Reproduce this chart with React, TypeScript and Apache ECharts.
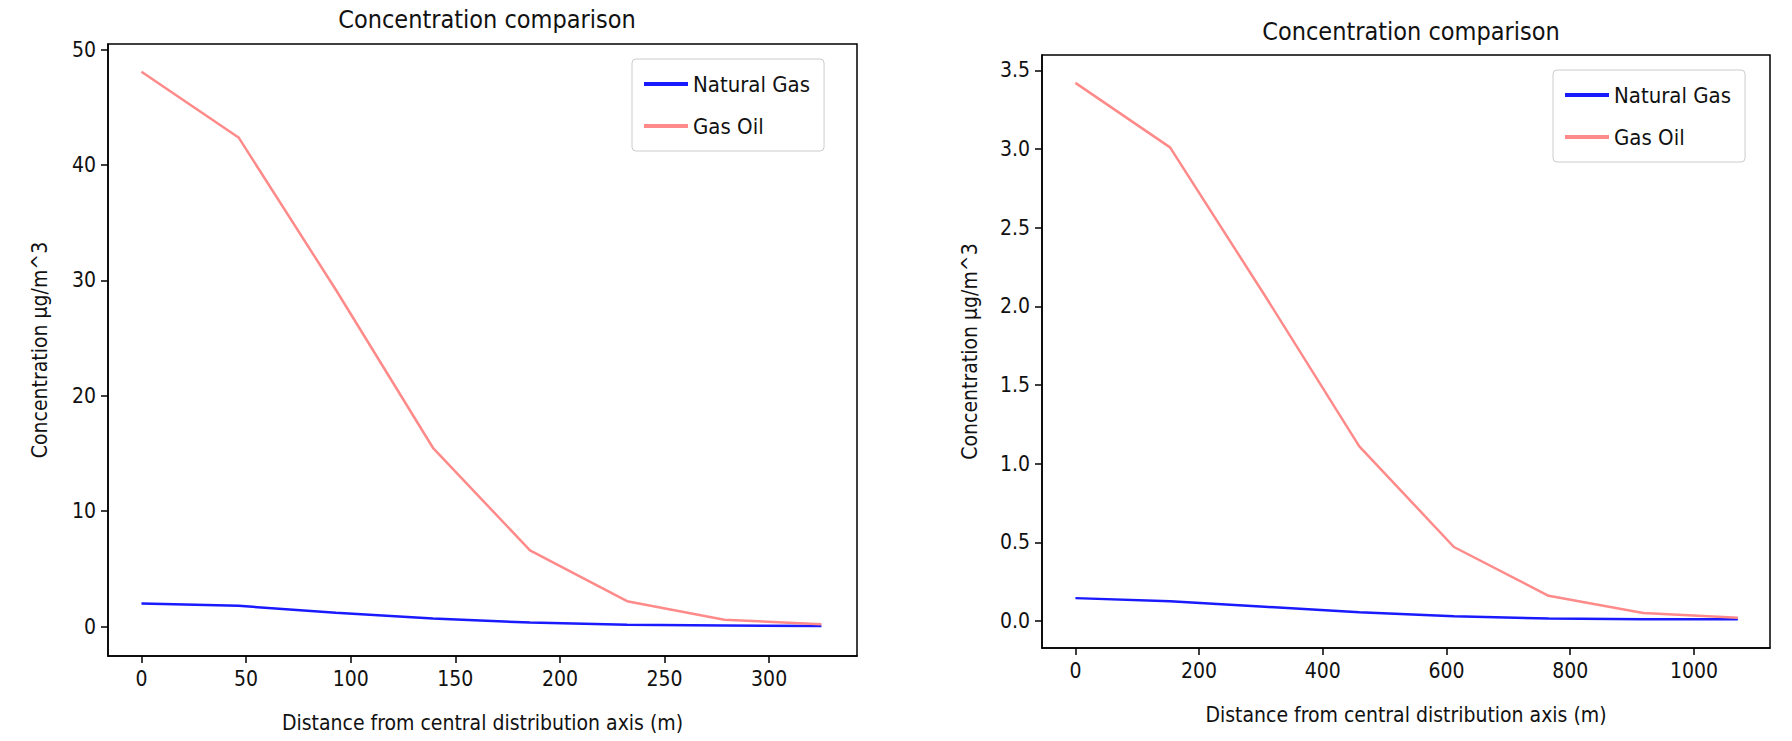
import { useEffect, useRef } from "react";
import * as echarts from "echarts";

const leftX = [0, 46.4, 92.9, 139.3, 185.7, 232.1, 278.6, 325];
const leftNatural = [2.0, 1.8, 1.2, 0.7, 0.35, 0.15, 0.1, 0.05];
const leftGasOil = [48.1, 42.4, 29.2, 15.5, 6.6, 2.2, 0.6, 0.2];
const leftXTicks = [0, 50, 100, 150, 200, 250, 300];
const leftYTicks = [0, 10, 20, 30, 40, 50];

const rightX = [0, 153, 306, 459, 612, 765, 918, 1071];
const rightNatural = [0.145, 0.125, 0.09, 0.055, 0.03, 0.015, 0.01, 0.01];
const rightGasOil = [3.42, 3.01, 2.07, 1.11, 0.47, 0.16, 0.05, 0.02];
const rightXTicks = [0, 200, 400, 600, 800, 1000];
const rightYTicks = [0, 0.5, 1, 1.5, 2, 2.5, 3, 3.5];

const FONT = "'DejaVu Sans Condensed', 'Liberation Sans Narrow', 'DejaVu Sans', sans-serif";
const BLUE = "#1a1aff";
const PINK = "#ff8a8a";

const pair = (xs: number[], ys: number[]) => xs.map((x, i) => [x, ys[i]]);

export default function App() {
  const chartRef = useRef<HTMLDivElement | null>(null);

  useEffect(() => {
    if (!chartRef.current) return;
    document.body.style.margin = "0";
    const chart = echarts.init(chartRef.current, undefined, { renderer: "svg" });

    const xAxis = (idx: number, min: number, max: number, ticks: number[]) => ({
      type: "value",
      gridIndex: idx,
      min,
      max,
      name: "Distance from central distribution axis (m)",
      nameLocation: "middle",
      nameGap: 56,
      nameTextStyle: { fontFamily: FONT, fontSize: 21, color: "#111" },
      axisLine: { onZero: false, lineStyle: { color: "#000", width: 1.5 } },
      axisTick: { length: 7, lineStyle: { color: "#000", width: 1.5 }, customValues: ticks },
      axisLabel: { customValues: ticks, formatter: (v: number) => String(v), margin: 12, fontFamily: FONT, fontSize: 21, color: "#111" },
      splitLine: { show: false },
    });

    const yAxis = (idx: number, min: number, max: number, ticks: number[], fmt: (v: number) => string, gap: number) => ({
      type: "value",
      gridIndex: idx,
      min,
      max,
      name: "Concentration µg/m^3",
      nameLocation: "middle",
      nameGap: gap,
      nameTextStyle: { fontFamily: FONT, fontSize: 21, color: "#111" },
      axisLine: { onZero: false, lineStyle: { color: "#000", width: 1.5 } },
      axisTick: { length: 7, lineStyle: { color: "#000", width: 1.5 }, customValues: ticks },
      axisLabel: { customValues: ticks, formatter: fmt, margin: 12, fontFamily: FONT, fontSize: 21, color: "#111" },
      splitLine: { show: false },
    });

    const legend = (left: number, top: number, names: string[]) => ({
      left,
      top,
      orient: "vertical",
      data: names,
      itemWidth: 44,
      itemHeight: 4,
      itemGap: 20,
      padding: [14, 14, 14, 12],
      borderColor: "#ccc",
      borderWidth: 1,
      borderRadius: 4,
      icon: "rect",
      textStyle: { fontFamily: FONT, fontSize: 22, color: "#111" },
    });

    const line = (name: string, data: number[][], color: string, idx: number) => ({
      name,
      type: "line",
      xAxisIndex: idx,
      yAxisIndex: idx,
      data,
      showSymbol: false,
      color,
      lineStyle: { color, width: 2.5 },
    });

    const titleStyle = { fontFamily: FONT, fontSize: 25, fontWeight: "normal", color: "#111" };

    chart.setOption({
      animation: false,
      title: [
        { text: "Concentration comparison", left: 482, top: 2, textAlign: "center", textStyle: titleStyle },
        { text: "Concentration comparison", left: 1406, top: 14, textAlign: "center", textStyle: titleStyle },
      ],
      legend: [legend(632, 59, ["Natural Gas", "Gas Oil"]), legend(1553, 70, ["Natural Gas", "Gas Oil"])],
      grid: [
        { left: 108, top: 44, width: 749, height: 612, show: true, borderColor: "#000", borderWidth: 1.5 },
        { left: 1042, top: 55, width: 728, height: 593, show: true, borderColor: "#000", borderWidth: 1.5 },
      ],
      xAxis: [xAxis(0, -16, 342, leftXTicks), xAxis(1, -54, 1123, rightXTicks)],
      yAxis: [
        yAxis(0, -2.55, 50.5, leftYTicks, (v) => String(v), 58),
        yAxis(1, -0.172, 3.597, rightYTicks, (v) => v.toFixed(1), 62),
      ],
      series: [
        line("Natural Gas", pair(leftX, leftNatural), BLUE, 0),
        line("Gas Oil", pair(leftX, leftGasOil), PINK, 0),
        line("Natural Gas", pair(rightX, rightNatural), BLUE, 1),
        line("Gas Oil", pair(rightX, rightGasOil), PINK, 1),
      ],
    });

    return () => chart.dispose();
  }, []);

  return <div ref={chartRef} style={{ width: 1792, height: 741, background: "#fff" }} />;
}
